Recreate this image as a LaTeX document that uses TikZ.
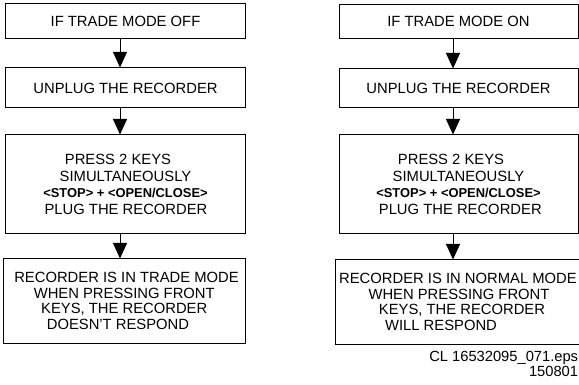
\documentclass[tikz,border=0pt]{standalone}
\usepackage{fontspec}
\setmainfont{Liberation Sans}
\usetikzlibrary{arrows.meta}
\begin{document}
\begin{tikzpicture}[x=1pt,y=-1pt,
  box/.style={draw,line width=1pt,inner sep=0pt,align=center,
    font=\fontsize{14.8}{16.5}\selectfont},
  tight/.style={font=\fontsize{14.8}{15.5}\selectfont},
  flow/.style={line width=1pt,-{Triangle[width=14pt,length=15.5pt]}},
  foot/.style={inner sep=0pt,anchor=base east,font=\fontsize{14.7}{16}\selectfont}]
\useasboundingbox (0,0) rectangle (579,385);
\newcommand{\keys}{{\fontsize{12.9}{16.5}\selectfont\bfseries <STOP> + <OPEN/CLOSE>}}
% left column
\node[box,minimum width=240pt,minimum height=35pt] (L1) at (125.5,21.5) {IF TRADE MODE OFF};
\node[box,minimum width=240pt,minimum height=40pt] (L2) at (125.5,88) {UNPLUG THE RECORDER};
\node[box,minimum width=240pt,minimum height=99pt] (L3) at (125.5,184.5)
  {PRESS 2 KEYS\hspace*{15pt}\\ SIMULTANEOUSLY\hspace*{7pt}\\ \keys\hspace*{5pt}\\ \hspace*{1pt}PLUG THE RECORDER};
\node[box,tight,minimum width=241.5pt,minimum height=84pt] (L4) at (124.25,301)
  {\hspace*{4.6pt}RECORDER IS IN TRADE MODE\\ WHEN PRESSING FRONT\hspace*{6.6pt}\\ KEYS, THE RECORDER\hspace*{0.6pt}\\ DOESN'T RESPOND\hspace*{12.6pt}};
\coordinate (axL) at (120,0);
\draw[flow] (L1.south -| axL) -- (L2.north -| axL);
\draw[flow] (L2.south -| axL) -- (L3.north -| axL);
\draw[flow] (L3.south -| axL) -- (L4.north -| axL);
% right column
\node[box,minimum width=239pt,minimum height=34.3pt] (R1) at (458.5,21.85) {IF TRADE MODE ON};
\node[box,minimum width=239pt,minimum height=39pt] (R2) at (458.5,88.5) {UNPLUG THE RECORDER};
\node[box,minimum width=239pt,minimum height=99pt] (R3) at (458.5,184.5)
  {PRESS 2 KEYS\hspace*{15pt}\\ SIMULTANEOUSLY\hspace*{11.4pt}\\ \keys\hspace*{3pt}\\ \hspace*{3.6pt}PLUG THE RECORDER};
\node[box,tight,minimum width=247pt,minimum height=84pt] (R4) at (458.5,302)
  {RECORDER IS IN NORMAL MODE\hspace*{1pt}\\ \hspace*{1pt}WHEN PRESSING FRONT\\ \hspace*{7pt}KEYS, THE RECORDER\\ WILL RESPOND\hspace*{35pt}};
\coordinate (axR) at (453,0);
\draw[flow] (R1.south -| axR) -- (R2.north -| axR);
\draw[flow] (R2.south -| axR) -- (R3.north -| axR);
\draw[flow] (R3.south -| axR) -- (R4.north -| axR);
% footer
\node[foot] (f1) at (578.3,361.7) {CL 16532095\_071.eps};
\node[foot] (f2) at (578.3,376.7) {150801};
\end{tikzpicture}
\end{document}
